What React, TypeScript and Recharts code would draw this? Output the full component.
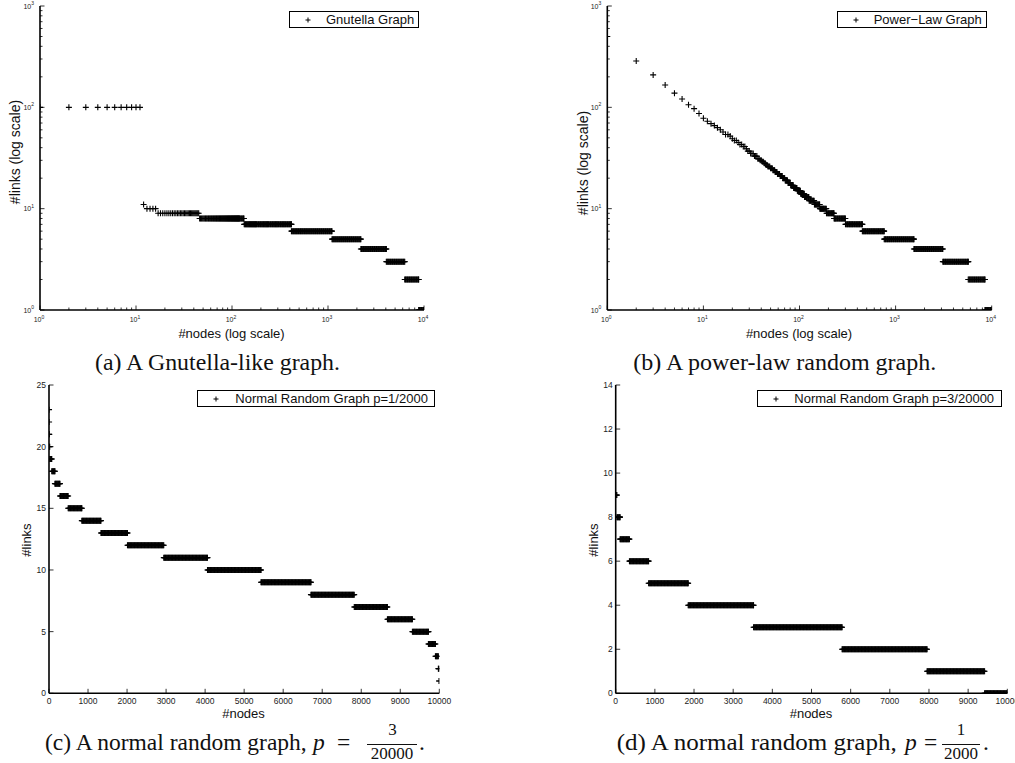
import React from 'react';
import { ScatterChart, Scatter, XAxis, YAxis, Legend } from 'recharts';

// Each run: [#links, last node rank having that many links] (ranks sorted by #links, descending)
type Run = [number, number];

const gnutellaRuns: Run[] = [
  [100, 11], [11, 12], [10, 16], [9, 45], [8, 133], [7, 415], [6, 1100],
  [5, 2200], [4, 4050], [3, 6300], [2, 8800], [1, 10000],
];

const powerLawRuns: Run[] = [
  [500, 1], [287, 2], [209, 3], [166, 4], [138, 5], [121, 6], [106, 7], [97, 8], [87, 9], [78, 10],
  [73, 11], [69, 12], [66, 13], [63, 14], [60, 15], [57, 16], [54, 18], [52, 19], [49, 20], [47, 22],
  [45, 23], [43, 25], [41, 27], [39, 28], [37, 30], [35, 33], [33, 36], [31, 38], [30, 40], [29, 42],
  [28, 44], [27, 46], [26, 49], [25, 52], [24, 55], [23, 58], [22, 62], [21, 66], [20, 70], [19, 75],
  [18, 80], [17, 86], [16, 94], [15, 102], [14, 112], [13, 125], [12, 142], [11, 162], [10, 190],
  [9, 228], [8, 300], [7, 450], [6, 760], [5, 1550], [4, 3100], [3, 5700], [2, 8500], [1, 10000],
];

const normalRunsC: Run[] = [
  [23, 1], [22, 2], [21, 5], [20, 18], [19, 70], [18, 150], [17, 280], [16, 490], [15, 840],
  [14, 1330], [13, 2010], [12, 2940], [11, 4060], [10, 5430], [9, 6710], [8, 7820], [7, 8670],
  [6, 9310], [5, 9720], [4, 9900], [3, 9975], [2, 9995], [1, 10000],
];

const normalRunsD: Run[] = [
  [9, 30], [8, 110], [7, 350], [6, 840], [5, 1850], [4, 3520], [3, 5780], [2, 7950], [1, 9420], [0, 10000],
];

const logXDecades = [1, 10, 100, 1000, 10000];
const logYDecades = [1, 10, 100, 1000];
const minorSteps = [2, 3, 4, 5, 6, 7, 8, 9];
const linXTicks = [0, 1000, 2000, 3000, 4000, 5000, 6000, 7000, 8000, 9000, 10000];
const linYTicksC = [0, 5, 10, 15, 20, 25];
const linYTicksD = [0, 2, 4, 6, 8, 10, 12, 14];

const withMinor = (decades: number[]) => {
  const out: number[] = [];
  decades.forEach((d, i) => {
    out.push(d);
    if (i < decades.length - 1) minorSteps.forEach((m) => out.push(d * m));
  });
  return out;
};

// decode runs into (rank, links) points; ranks sampled finely enough to be continuous on screen
function expandRuns(runs: Run[], gap: (r: number) => number) {
  const pts: { x: number; y: number }[] = [];
  let first = 1;
  for (const [links, last] of runs) {
    let r = first;
    while (r < last) {
      pts.push({ x: r, y: links });
      r += gap(r);
    }
    pts.push({ x: last, y: links });
    first = last + 1;
  }
  return pts;
}

const logGap = (r: number) => Math.max(1, Math.floor(r / 60));
const linGap = () => 15;

const SANS = 'Liberation Sans, Arial, Helvetica, sans-serif';
const SERIF = 'Liberation Serif, Times New Roman, serif';

const isDecade = (v: number) => v > 0 && Math.abs(Math.log10(v) - Math.round(Math.log10(v))) < 1e-9;

type Orient = 'bottom' | 'top' | 'left' | 'right';

function makeTick(orient: Orient, log: boolean, showLabel: boolean) {
  return (p: any) => {
    const { x, y } = p;
    const v = p.payload.value;
    const major = log ? isDecade(v) : true;
    const len = major ? 4.5 : 2.5;
    let x2 = x, y2 = y;
    if (orient === 'bottom') y2 = y - len;
    if (orient === 'top') y2 = y + len;
    if (orient === 'left') x2 = x + len;
    if (orient === 'right') x2 = x - len;
    let label: React.ReactNode = null;
    if (showLabel && major) {
      if (log) {
        const e = Math.round(Math.log10(v));
        if (orient === 'bottom') {
          label = (
            <text x={x - 1} y={y + 12} textAnchor="middle" fontSize={7} fontFamily={SANS} fill="#222">
              10<tspan dy={-3.5} fontSize={5}>{e}</tspan>
            </text>
          );
        } else {
          label = (
            <text x={x - 6} y={y + 2.5} textAnchor="end" fontSize={7} fontFamily={SANS} fill="#222">
              10<tspan dy={-3.5} fontSize={5}>{e}</tspan>
            </text>
          );
        }
      } else {
        if (orient === 'bottom') {
          label = (
            <text x={x} y={y + 11} textAnchor="middle" fontSize={8.5} fontFamily={SANS} fill="#222">
              {v}
            </text>
          );
        } else {
          label = (
            <text x={x - 3} y={y + 3} textAnchor="end" fontSize={8.5} fontFamily={SANS} fill="#222">
              {v}
            </text>
          );
        }
      }
    }
    return (
      <g>
        <line x1={x} y1={y} x2={x2} y2={y2} stroke="#000" strokeWidth={0.8} />
        {label}
      </g>
    );
  };
}

const plusShape = (props: any) => {
  const { cx, cy } = props;
  if (cx == null || cy == null) return <g />;
  const h = 3;
  return (
    <path
      d={`M${cx - h},${cy}H${cx + h}M${cx},${cy - h}V${cy + h}`}
      stroke="#000"
      strokeWidth={1.1}
      fill="none"
    />
  );
};

const axisLineStyle = { stroke: '#000', strokeWidth: 1.6 };

type PanelProps = {
  left: number;
  top: number;
  width: number;
  height: number;
  margin: { top: number; right: number; bottom: number; left: number };
  runs: Run[];
  log: boolean;
  xDomain: [number, number];
  yDomain: [number, number];
  xTicks: number[];
  yTicks: number[];
  name: string;
  legendBox: { left: number; top: number; width: number; markX: number; textX: number };
};

function Panel(props: PanelProps) {
  const { left, top, width, height, margin, runs, log, xDomain, yDomain, xTicks, yTicks, name, legendBox } = props;
  const data = expandRuns(runs, log ? logGap : linGap);
  const scale = log ? 'log' : 'linear';
  const legendContent = () => (
    <div
      style={{
        boxSizing: 'border-box',
        width: legendBox.width,
        height: 17.3,
        border: '1px solid #000',
        background: '#fff',
        position: 'relative',
        fontFamily: SANS,
        fontSize: 13,
        color: '#111',
      }}
    >
      <svg width={10} height={10} style={{ position: 'absolute', left: legendBox.markX - 5, top: 3.3 }}>
        <path d="M2.5,5H7.5M5,2.5V7.5" stroke="#000" strokeWidth={1} />
      </svg>
      <span style={{ position: 'absolute', left: legendBox.textX, top: 0, lineHeight: '15.3px', whiteSpace: 'nowrap' }}>
        {name}
      </span>
    </div>
  );
  return (
    <div style={{ position: 'absolute', left, top, width, height }}>
      <ScatterChart width={width} height={height} margin={margin}>
        <XAxis
          xAxisId={0}
          dataKey="x"
          type="number"
          scale={scale}
          domain={xDomain}
          allowDataOverflow
          ticks={xTicks}
          interval={0}
          height={30}
          tickSize={0}
          tickMargin={0}
          tickLine={false}
          axisLine={axisLineStyle}
          tick={makeTick('bottom', log, true)}
        />
        <XAxis
          xAxisId="top"
          orientation="top"
          type="number"
          scale={scale}
          domain={xDomain}
          allowDataOverflow
          ticks={xTicks}
          interval={0}
          height={0}
          tickSize={0}
          tickMargin={0}
          tickLine={false}
          axisLine={axisLineStyle}
          tick={makeTick('top', log, false)}
        />
        <YAxis
          yAxisId={0}
          dataKey="y"
          type="number"
          scale={scale}
          domain={yDomain}
          allowDataOverflow
          ticks={yTicks}
          interval={0}
          width={40}
          tickSize={0}
          tickMargin={0}
          tickLine={false}
          axisLine={axisLineStyle}
          tick={makeTick('left', log, true)}
        />
        <YAxis
          yAxisId="right"
          orientation="right"
          type="number"
          scale={scale}
          domain={yDomain}
          allowDataOverflow
          ticks={yTicks}
          interval={0}
          width={0}
          tickSize={0}
          tickMargin={0}
          tickLine={false}
          axisLine={axisLineStyle}
          tick={makeTick('right', log, false)}
        />
        <Scatter
          name={name}
          data={data}
          xAxisId={0}
          yAxisId={0}
          fill="#000"
          shape={plusShape}
          isAnimationActive={false}
        />
        <Legend
          layout="horizontal"
          verticalAlign="middle"
          align="center"
          content={legendContent}
          wrapperStyle={{ left: legendBox.left, top: legendBox.top, width: legendBox.width, height: 17.3, right: 'auto', bottom: 'auto' }}
        />
      </ScatterChart>
    </div>
  );
}

export default function App() {
  return (
    <div style={{ position: 'absolute', left: 0, top: 0, width: 1015, height: 763, background: '#fff', overflow: 'hidden' }}>
      <Panel
        left={0}
        top={0}
        width={500}
        height={340}
        margin={{ top: 6, right: 76, bottom: 0, left: 0 }}
        runs={gnutellaRuns}
        log
        xDomain={[1, 10000]}
        yDomain={[1, 1000]}
        xTicks={withMinor(logXDecades)}
        yTicks={withMinor(logYDecades)}
        name="Gnutella Graph"
        legendBox={{ left: 288.7, top: 11, width: 130.6, markX: 18.6, textX: 36.3 }}
      />
      <Panel
        left={500}
        top={0}
        width={515}
        height={340}
        margin={{ top: 6, right: 23.3, bottom: 0, left: 67.3 }}
        runs={powerLawRuns}
        log
        xDomain={[1, 10000]}
        yDomain={[1, 1000]}
        xTicks={withMinor(logXDecades)}
        yTicks={withMinor(logYDecades)}
        name="Power−Law Graph"
        legendBox={{ left: 336.7, top: 11, width: 150.6, markX: 18.3, textX: 36 }}
      />
      <Panel
        left={0}
        top={340}
        width={500}
        height={423}
        margin={{ top: 45, right: 60.7, bottom: 39.7, left: 9 }}
        runs={normalRunsC}
        log={false}
        xDomain={[0, 10000]}
        yDomain={[0, 25]}
        xTicks={linXTicks}
        yTicks={linYTicksC}
        name="Normal Random Graph p=1/2000"
        legendBox={{ left: 196.7, top: 50, width: 238.3, markX: 18.3, textX: 37.6 }}
      />
      <Panel
        left={500}
        top={340}
        width={515}
        height={423}
        margin={{ top: 45, right: 7.7, bottom: 39.7, left: 75.7 }}
        runs={normalRunsD}
        log={false}
        xDomain={[0, 10000]}
        yDomain={[0, 14]}
        xTicks={linXTicks}
        yTicks={linYTicksD}
        name="Normal Random Graph p=3/20000"
        legendBox={{ left: 256.7, top: 50, width: 245.6, markX: 18.3, textX: 36.6 }}
      />
      <svg width={1015} height={763} style={{ position: 'absolute', left: 0, top: 0, pointerEvents: 'none' }}>
        {/* axis titles */}
        <g fontFamily={SANS} fontSize={13} fill="#111">
          <text x={231.5} y={337.5} textAnchor="middle">#nodes (log scale)</text>
          <text x={799} y={337.5} textAnchor="middle">#nodes (log scale)</text>
          <text x={243.5} y={718} textAnchor="middle">#nodes</text>
          <text x={811} y={718} textAnchor="middle">#nodes</text>
          <text transform="translate(20,152) rotate(-90)" textAnchor="middle" fontSize={14}>#links (log scale)</text>
          <text transform="translate(588,163) rotate(-90)" textAnchor="middle" fontSize={14}>#links (log scale)</text>
          <text transform="translate(30.5,540) rotate(-90)" textAnchor="middle">#links</text>
          <text transform="translate(597.5,540) rotate(-90)" textAnchor="middle">#links</text>
        </g>
        {/* captions */}
        <g fontFamily={SERIF} fontSize={23.5} fill="#111">
          <text x={95} y={370} textLength={245} lengthAdjust="spacingAndGlyphs">(a) A Gnutella-like graph.</text>
          <text x={633.3} y={370} textLength={303} lengthAdjust="spacingAndGlyphs">(b) A power-law random graph.</text>

          <text x={45} y={750} textLength={261.7} lengthAdjust="spacingAndGlyphs">(c) A normal random graph,</text>
          <text x={313} y={750} fontStyle="italic">p</text>
          <text x={337} y={750}>=</text>
          <text x={392.5} y={735} fontSize={17} textAnchor="middle">3</text>
          <line x1={367} y1={744.5} x2={417} y2={744.5} stroke="#111" strokeWidth={1} />
          <text x={392} y={758.5} fontSize={17} textAnchor="middle">20000</text>
          <text x={419} y={750}>.</text>

          <text x={616.7} y={750} textLength={280} lengthAdjust="spacingAndGlyphs">(d) A normal random graph,</text>
          <text x={905} y={750} fontStyle="italic">p</text>
          <text x={924} y={750}>=</text>
          <text x={961} y={735} fontSize={17} textAnchor="middle">1</text>
          <line x1={942} y1={744.5} x2={980} y2={744.5} stroke="#111" strokeWidth={1} />
          <text x={961} y={758.5} fontSize={17} textAnchor="middle">2000</text>
          <text x={983} y={750}>.</text>
        </g>
      </svg>
    </div>
  );
}
